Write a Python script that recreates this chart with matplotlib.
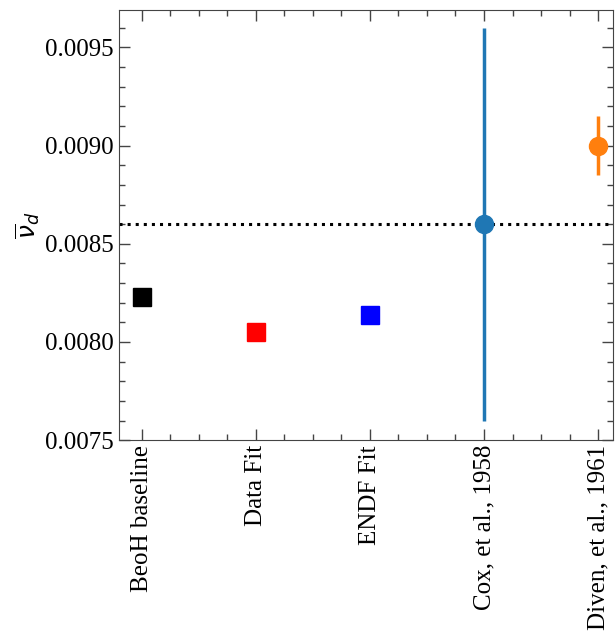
import matplotlib
matplotlib.use("Agg")
import matplotlib.pyplot as plt
from matplotlib.ticker import MultipleLocator

categories = ["BeoH baseline", "Data Fit", "ENDF Fit", "Cox, et al., 1958", "Diven, et al., 1961"]
model_values = [0.00823, 0.00805, 0.00814]
model_colors = ["black", "red", "blue"]
exp_values = [0.0086, 0.0090]
exp_errors = [0.0010, 0.00015]
exp_colors = ["#1f77b4", "#ff7f0e"]
ref_line = 0.0086

plt.rcParams['font.family'] = ['Liberation Serif', 'DejaVu Serif']
plt.rcParams['mathtext.fontset'] = 'dejavusans'
fig = plt.figure(figsize=(6.16, 6.37), dpi=100)
ax = fig.add_axes([0.193, 0.309, 0.802, 0.675])

for i, (v, c) in enumerate(zip(model_values, model_colors)):
    ax.plot(i, v, marker='s', color=c, markersize=13, linestyle='none')
for j, (v, e, c) in enumerate(zip(exp_values, exp_errors, exp_colors)):
    ax.errorbar(3 + j, v, yerr=e, fmt='o', color=c, markersize=13, elinewidth=2.5, capsize=0)

ax.axhline(ref_line, color='black', linestyle=':', linewidth=2.2)

ax.set_xticks(range(len(categories)))
ax.set_xticklabels(categories, rotation=90, fontsize=18)
ax.set_xlim(-0.2, 4.13)
ax.set_ylim(0.0075, 0.00969)
ax.yaxis.set_major_locator(MultipleLocator(0.0005))
ax.yaxis.set_minor_locator(MultipleLocator(0.0001))
ax.xaxis.set_minor_locator(MultipleLocator(0.25))
ax.yaxis.set_major_formatter(matplotlib.ticker.FormatStrFormatter('%.4f'))
ax.tick_params(axis='y', labelsize=18)
ax.tick_params(which='both', direction='in', top=True, right=True, color='#444444')
ax.tick_params(which='major', length=8, width=1)
ax.tick_params(which='minor', length=4, width=1)
for s in ax.spines.values():
    s.set_color('#444444')
ax.set_ylabel(r'$\overline{\nu}_d$', fontsize=18, labelpad=2)

fig.savefig("out.png", dpi=100)
